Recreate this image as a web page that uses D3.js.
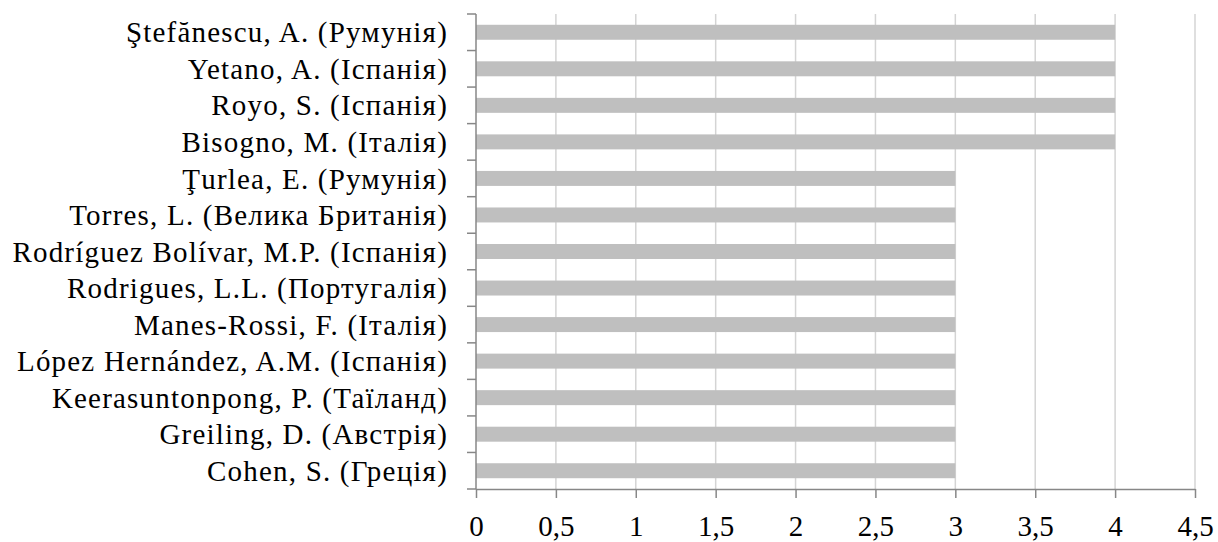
<!DOCTYPE html>
<html>
<head>
<meta charset="utf-8">
<script src="https://cdn.jsdelivr.net/npm/d3@7"></script>
<style>
  html, body { margin: 0; padding: 0; background: #fff; }
  svg { display: block; }
  svg text { font-family: "Liberation Serif", "Times New Roman", "DejaVu Serif", serif; }
</style>
</head>
<body>
<svg id="chart" width="1218" height="542"></svg>
<script>
// Authors and their publication counts, top to bottom
const authors = [
  "Ştefănescu, A. (Румунія)",
  "Yetano, A. (Іспанія)",
  "Royo, S. (Іспанія)",
  "Bisogno, M. (Італія)",
  "Ţurlea, E. (Румунія)",
  "Torres, L. (Велика Британія)",
  "Rodríguez Bolívar, M.P. (Іспанія)",
  "Rodrigues, L.L. (Португалія)",
  "Manes-Rossi, F. (Італія)",
  "López Hernández, A.M. (Іспанія)",
  "Keerasuntonpong, P. (Таїланд)",
  "Greiling, D. (Австрія)",
  "Cohen, S. (Греція)"
];
const counts = [4, 4, 4, 4, 3, 3, 3, 3, 3, 3, 3, 3, 3];
const xTicks = [0, 0.5, 1, 1.5, 2, 2.5, 3, 3.5, 4, 4.5];

const FONT_SIZE = 29;

const svg = d3.select("#chart");
const plotLeft = 476, plotRight = 1195, plotTop = 14, plotBottom = 489;

const x = d3.scaleLinear().domain([0, 4.5]).range([plotLeft, plotRight]);
const y = d3.scaleBand().domain(authors).range([plotTop, plotBottom]).paddingInner(0.59).paddingOuter(0.295);
const yb = d3.scaleBand().domain(authors).range([plotTop, plotBottom]);

// vertical gridlines
svg.append("g")
  .selectAll("line")
  .data(xTicks.filter(d => d > 0))
  .join("line")
  .attr("x1", d => x(d)).attr("x2", d => x(d))
  .attr("y1", plotTop).attr("y2", plotBottom)
  .attr("stroke", "#d4d4d4").attr("stroke-width", 1.5);

// bars
svg.append("g")
  .selectAll("rect")
  .data(authors)
  .join("rect")
  .attr("x", x(0))
  .attr("y", d => y(d))
  .attr("width", (d, i) => x(counts[i]) - x(0))
  .attr("height", y.bandwidth())
  .attr("fill", "#bfbfbf");

// bottom axis
const xAxis = d3.axisBottom(x).tickValues(xTicks)
  .tickFormat(d => String(d).replace(".", ","))
  .tickSize(9).tickSizeOuter(0).tickPadding(17);
const gx = svg.append("g")
  .attr("transform", `translate(0,${plotBottom})`)
  .call(xAxis)
  .attr("font-size", FONT_SIZE);
gx.select(".domain").attr("stroke", "#878787").attr("stroke-width", 1.5);
gx.selectAll(".tick line").attr("stroke", "#878787").attr("stroke-width", 1.5);
gx.selectAll(".tick text").attr("fill", "#000");

// left axis: ticks at band boundaries
const boundaries = d3.range(authors.length + 1).map(i => plotTop + i * yb.step());
svg.append("line")
  .attr("x1", plotLeft).attr("x2", plotLeft).attr("y1", plotTop).attr("y2", plotBottom)
  .attr("stroke", "#878787").attr("stroke-width", 1.5);
svg.append("g")
  .selectAll("line")
  .data(boundaries)
  .join("line")
  .attr("x1", plotLeft - 9).attr("x2", plotLeft)
  .attr("y1", d => d).attr("y2", d => d)
  .attr("stroke", "#878787").attr("stroke-width", 1.5);

// category labels
svg.append("g")
  .attr("font-size", FONT_SIZE)
  .attr("letter-spacing", 1.2)
  .selectAll("text")
  .data(authors)
  .join("text")
  .attr("x", plotLeft - 28)
  .attr("y", d => yb(d) + yb.bandwidth() / 2)
  .attr("dy", "0.35em")
  .attr("text-anchor", "end")
  .attr("fill", "#000")
  .text(d => d);
</script>
</body>
</html>
